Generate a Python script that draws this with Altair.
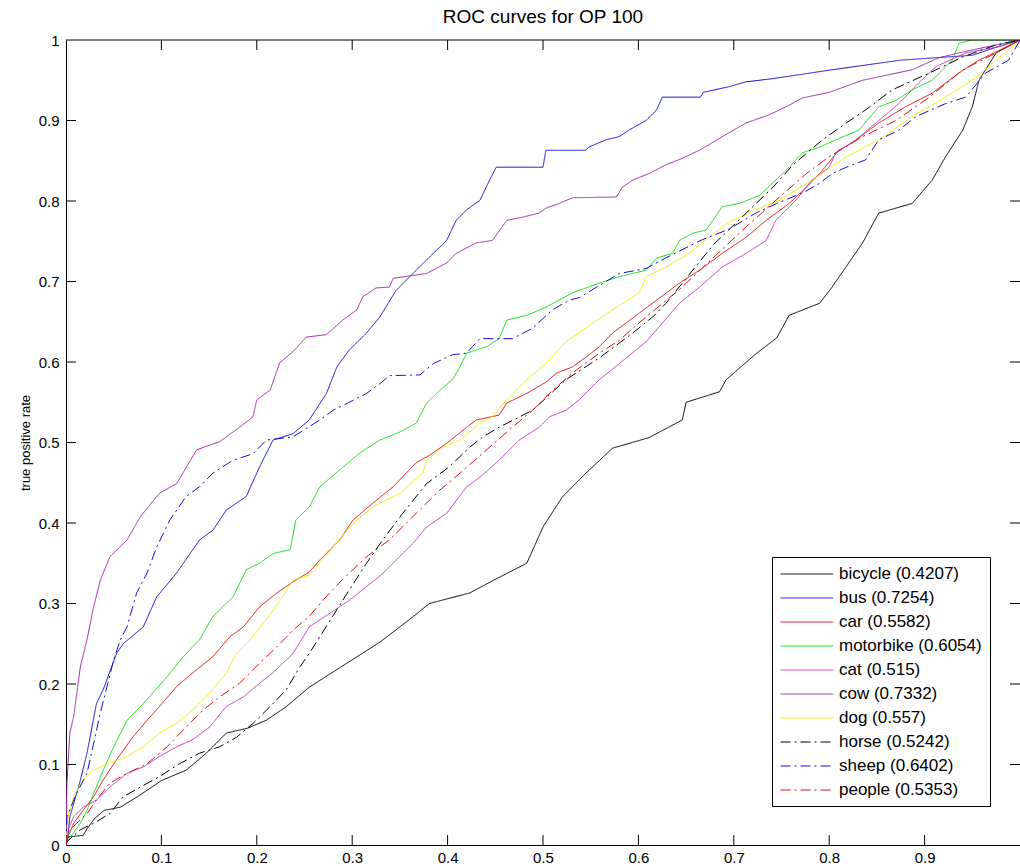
import altair as alt
import pandas as pd

# ---- data ----
names = ["bicycle", "bus", "car", "motorbike", "cat", "cow", "dog", "horse", "sheep", "people"]
auc = ["0.4207", "0.7254", "0.5582", "0.6054", "0.515", "0.7332", "0.557", "0.5242", "0.6402", "0.5353"]
colors = ["#000000", "#1010d0", "#e01010", "#10e010", "#c038c0", "#a028a8", "#f0f000", "#000000", "#1010d0", "#e01010"]
dashes = [[1, 0], [1, 0], [1, 0], [1, 0], [1, 0], [1, 0], [1, 0], [10, 4, 2, 4], [10, 4, 2, 4], [10, 4, 2, 4]]

bicycle_fpr = [0, 0.002, 0.018, 0.022, 0.03, 0.04, 0.057, 0.075, 0.085, 0.1, 0.126, 0.147, 0.168, 0.19, 0.21, 0.231, 0.255, 0.28, 0.3, 0.329, 0.36, 0.381, 0.423, 0.45, 0.483, 0.5, 0.52, 0.545, 0.573, 0.611, 0.646, 0.65, 0.685, 0.692, 0.723, 0.745, 0.758, 0.79, 0.803, 0.835, 0.852, 0.887, 0.908, 0.922, 0.94, 0.95, 0.957, 0.975, 1.0]
bicycle_tpr = [0, 0.01, 0.012, 0.02, 0.033, 0.043, 0.047, 0.06, 0.068, 0.08, 0.093, 0.114, 0.139, 0.145, 0.155, 0.172, 0.196, 0.215, 0.23, 0.252, 0.28, 0.3, 0.313, 0.33, 0.35, 0.395, 0.432, 0.462, 0.493, 0.506, 0.528, 0.55, 0.563, 0.578, 0.61, 0.63, 0.658, 0.673, 0.693, 0.748, 0.785, 0.797, 0.826, 0.855, 0.888, 0.917, 0.95, 0.984, 1.0]

bus_fpr = [0, 0.002, 0.004, 0.015, 0.022, 0.032, 0.039, 0.053, 0.06, 0.081, 0.095, 0.116, 0.14, 0.154, 0.168, 0.189, 0.203, 0.217, 0.238, 0.255, 0.273, 0.284, 0.297, 0.315, 0.329, 0.346, 0.367, 0.385, 0.399, 0.409, 0.42, 0.434, 0.444, 0.451, 0.458, 0.5, 0.503, 0.545, 0.548, 0.566, 0.58, 0.59, 0.608, 0.619, 0.625, 0.665, 0.668, 0.695, 0.713, 0.741, 0.803, 0.875, 0.95, 0.975, 1.0]
bus_tpr = [0, 0.01, 0.035, 0.08, 0.114, 0.176, 0.193, 0.238, 0.25, 0.271, 0.308, 0.338, 0.379, 0.391, 0.416, 0.433, 0.47, 0.503, 0.511, 0.528, 0.561, 0.594, 0.615, 0.636, 0.656, 0.689, 0.714, 0.735, 0.751, 0.776, 0.789, 0.801, 0.826, 0.842, 0.842, 0.842, 0.863, 0.863, 0.867, 0.876, 0.88, 0.888, 0.9, 0.913, 0.929, 0.929, 0.935, 0.942, 0.948, 0.952, 0.963, 0.975, 0.981, 0.991, 1.0]

car_fpr = [0, 0.002, 0.008, 0.018, 0.029, 0.039, 0.053, 0.07, 0.085, 0.098, 0.116, 0.133, 0.154, 0.172, 0.186, 0.203, 0.221, 0.238, 0.255, 0.266, 0.287, 0.301, 0.322, 0.343, 0.367, 0.381, 0.399, 0.42, 0.43, 0.454, 0.462, 0.483, 0.503, 0.514, 0.531, 0.545, 0.559, 0.573, 0.643, 0.664, 0.688, 0.713, 0.734, 0.758, 0.776, 0.79, 0.81, 0.824, 0.852, 0.88, 0.908, 0.936, 0.957, 0.985, 1.0]
car_tpr = [0, 0.01, 0.027, 0.043, 0.06, 0.081, 0.106, 0.134, 0.155, 0.172, 0.197, 0.214, 0.234, 0.259, 0.271, 0.296, 0.313, 0.327, 0.339, 0.354, 0.379, 0.404, 0.425, 0.445, 0.475, 0.484, 0.499, 0.519, 0.528, 0.534, 0.549, 0.561, 0.575, 0.586, 0.594, 0.606, 0.619, 0.636, 0.698, 0.714, 0.735, 0.755, 0.776, 0.797, 0.817, 0.834, 0.863, 0.872, 0.897, 0.917, 0.934, 0.959, 0.975, 0.991, 1.0]

motorbike_fpr = [0, 0.001, 0.008, 0.015, 0.022, 0.029, 0.039, 0.05, 0.064, 0.078, 0.091, 0.106, 0.123, 0.14, 0.154, 0.175, 0.189, 0.203, 0.217, 0.235, 0.241, 0.255, 0.266, 0.287, 0.308, 0.329, 0.35, 0.367, 0.378, 0.392, 0.405, 0.413, 0.42, 0.441, 0.454, 0.462, 0.483, 0.503, 0.531, 0.559, 0.58, 0.608, 0.619, 0.636, 0.643, 0.657, 0.671, 0.688, 0.706, 0.727, 0.744, 0.758, 0.772, 0.79, 0.807, 0.831, 0.852, 0.87, 0.887, 0.908, 0.929, 0.936, 0.95, 1.0]
motorbike_tpr = [0, 0.005, 0.015, 0.027, 0.043, 0.064, 0.093, 0.122, 0.155, 0.172, 0.189, 0.209, 0.234, 0.255, 0.284, 0.308, 0.342, 0.35, 0.362, 0.367, 0.404, 0.42, 0.445, 0.466, 0.487, 0.503, 0.513, 0.524, 0.549, 0.565, 0.578, 0.594, 0.611, 0.619, 0.629, 0.652, 0.658, 0.668, 0.686, 0.698, 0.706, 0.714, 0.729, 0.735, 0.751, 0.76, 0.764, 0.793, 0.797, 0.807, 0.826, 0.842, 0.86, 0.867, 0.876, 0.888, 0.917, 0.925, 0.938, 0.95, 0.975, 0.996, 1.0, 1.0]

cat_fpr = [0, 0.001, 0.008, 0.018, 0.032, 0.046, 0.064, 0.081, 0.098, 0.116, 0.133, 0.151, 0.168, 0.186, 0.203, 0.217, 0.238, 0.255, 0.297, 0.33, 0.346, 0.364, 0.378, 0.399, 0.42, 0.434, 0.454, 0.475, 0.496, 0.507, 0.524, 0.538, 0.559, 0.58, 0.608, 0.619, 0.643, 0.664, 0.688, 0.713, 0.734, 0.744, 0.765, 0.782, 0.8, 0.807, 0.828, 0.852, 0.873, 0.894, 0.912, 0.943, 0.975, 1.0]
cat_tpr = [0, 0.015, 0.035, 0.047, 0.056, 0.072, 0.089, 0.097, 0.11, 0.122, 0.131, 0.147, 0.172, 0.184, 0.201, 0.214, 0.238, 0.271, 0.304, 0.335, 0.354, 0.375, 0.395, 0.412, 0.445, 0.457, 0.478, 0.503, 0.519, 0.532, 0.54, 0.553, 0.578, 0.598, 0.625, 0.64, 0.673, 0.693, 0.718, 0.735, 0.751, 0.776, 0.801, 0.826, 0.842, 0.86, 0.876, 0.9, 0.921, 0.947, 0.967, 0.984, 0.991, 1.0]

cow_fpr = [0, 0.001, 0.004, 0.008, 0.015, 0.022, 0.029, 0.036, 0.046, 0.064, 0.078, 0.098, 0.116, 0.137, 0.161, 0.182, 0.196, 0.2, 0.214, 0.224, 0.238, 0.252, 0.273, 0.29, 0.305, 0.311, 0.325, 0.339, 0.343, 0.378, 0.399, 0.409, 0.43, 0.447, 0.462, 0.479, 0.496, 0.503, 0.517, 0.531, 0.577, 0.583, 0.594, 0.611, 0.629, 0.646, 0.664, 0.688, 0.713, 0.737, 0.758, 0.772, 0.8, 0.835, 0.887, 0.915, 0.94, 0.975, 1.0]
cow_tpr = [0, 0.077, 0.139, 0.159, 0.221, 0.255, 0.296, 0.329, 0.358, 0.379, 0.408, 0.437, 0.449, 0.491, 0.501, 0.519, 0.532, 0.553, 0.565, 0.599, 0.613, 0.631, 0.634, 0.652, 0.665, 0.681, 0.692, 0.693, 0.704, 0.71, 0.723, 0.735, 0.748, 0.751, 0.776, 0.78, 0.785, 0.791, 0.797, 0.804, 0.805, 0.817, 0.826, 0.834, 0.845, 0.853, 0.863, 0.88, 0.897, 0.907, 0.919, 0.928, 0.935, 0.95, 0.963, 0.978, 0.985, 0.994, 1.0]

dog_fpr = [0, 0.002, 0.008, 0.018, 0.029, 0.046, 0.064, 0.081, 0.098, 0.116, 0.133, 0.151, 0.168, 0.179, 0.193, 0.21, 0.227, 0.238, 0.255, 0.28, 0.301, 0.322, 0.35, 0.374, 0.378, 0.395, 0.413, 0.434, 0.447, 0.462, 0.483, 0.503, 0.524, 0.552, 0.573, 0.601, 0.608, 0.629, 0.653, 0.674, 0.695, 0.723, 0.748, 0.782, 0.818, 0.852, 0.887, 0.922, 0.95, 0.975, 1.0]
dog_tpr = [0, 0.035, 0.06, 0.081, 0.093, 0.102, 0.11, 0.122, 0.139, 0.151, 0.168, 0.189, 0.214, 0.238, 0.255, 0.28, 0.308, 0.329, 0.335, 0.37, 0.4, 0.42, 0.437, 0.462, 0.478, 0.494, 0.503, 0.524, 0.532, 0.553, 0.578, 0.598, 0.625, 0.648, 0.665, 0.686, 0.706, 0.718, 0.735, 0.755, 0.774, 0.789, 0.801, 0.826, 0.855, 0.876, 0.905, 0.929, 0.95, 0.975, 1.0]

horse_fpr = [0, 0.001, 0.015, 0.029, 0.046, 0.06, 0.078, 0.098, 0.119, 0.14, 0.161, 0.179, 0.196, 0.214, 0.231, 0.245, 0.255, 0.297, 0.315, 0.332, 0.353, 0.378, 0.402, 0.423, 0.437, 0.454, 0.489, 0.524, 0.559, 0.594, 0.615, 0.629, 0.678, 0.713, 0.741, 0.762, 0.793, 0.818, 0.838, 0.866, 0.905, 0.94, 0.975, 1.0]
horse_tpr = [0, 0.004, 0.019, 0.027, 0.039, 0.06, 0.072, 0.085, 0.101, 0.114, 0.122, 0.134, 0.151, 0.172, 0.193, 0.221, 0.238, 0.317, 0.35, 0.379, 0.412, 0.449, 0.47, 0.494, 0.507, 0.519, 0.54, 0.578, 0.605, 0.636, 0.656, 0.673, 0.745, 0.785, 0.817, 0.845, 0.876, 0.897, 0.913, 0.938, 0.959, 0.979, 0.994, 1.0]

sheep_fpr = [0, 0.001, 0.011, 0.022, 0.036, 0.043, 0.05, 0.057, 0.064, 0.074, 0.085, 0.095, 0.109, 0.126, 0.14, 0.154, 0.175, 0.196, 0.21, 0.238, 0.266, 0.28, 0.297, 0.315, 0.329, 0.339, 0.371, 0.385, 0.405, 0.42, 0.426, 0.434, 0.468, 0.489, 0.51, 0.528, 0.538, 0.559, 0.58, 0.608, 0.625, 0.65, 0.667, 0.695, 0.723, 0.745, 0.772, 0.79, 0.803, 0.818, 0.838, 0.852, 0.873, 0.891, 0.922, 0.943, 0.964, 0.988, 1.0]
sheep_tpr = [0, 0.035, 0.064, 0.089, 0.164, 0.197, 0.23, 0.255, 0.271, 0.313, 0.338, 0.37, 0.404, 0.433, 0.445, 0.462, 0.478, 0.486, 0.503, 0.507, 0.528, 0.54, 0.55, 0.561, 0.573, 0.583, 0.584, 0.598, 0.609, 0.611, 0.619, 0.629, 0.629, 0.642, 0.665, 0.677, 0.68, 0.695, 0.71, 0.716, 0.727, 0.742, 0.752, 0.765, 0.785, 0.797, 0.81, 0.822, 0.834, 0.842, 0.851, 0.876, 0.888, 0.905, 0.921, 0.929, 0.959, 0.975, 1.0]

people_fpr = [0, 0.002, 0.011, 0.022, 0.032, 0.046, 0.064, 0.085, 0.106, 0.123, 0.144, 0.161, 0.182, 0.203, 0.221, 0.238, 0.255, 0.27, 0.29, 0.315, 0.339, 0.367, 0.392, 0.413, 0.441, 0.465, 0.489, 0.51, 0.535, 0.559, 0.58, 0.608, 0.643, 0.713, 0.748, 0.776, 0.8, 0.835, 0.87, 0.905, 0.94, 0.975, 1.0]
people_tpr = [0, 0.015, 0.027, 0.039, 0.056, 0.077, 0.089, 0.101, 0.122, 0.143, 0.168, 0.184, 0.201, 0.226, 0.246, 0.267, 0.284, 0.305, 0.33, 0.358, 0.379, 0.412, 0.441, 0.462, 0.491, 0.516, 0.54, 0.565, 0.59, 0.611, 0.627, 0.656, 0.69, 0.768, 0.805, 0.834, 0.855, 0.88, 0.9, 0.929, 0.963, 0.984, 1.0]

x_ticks = [0, 0.1, 0.2, 0.3, 0.4, 0.5, 0.6, 0.7, 0.8, 0.9]
y_ticks = [0, 0.1, 0.2, 0.3, 0.4, 0.5, 0.6, 0.7, 0.8, 0.9, 1]

series = {
    "bicycle": (bicycle_fpr, bicycle_tpr), "bus": (bus_fpr, bus_tpr), "car": (car_fpr, car_tpr),
    "motorbike": (motorbike_fpr, motorbike_tpr), "cat": (cat_fpr, cat_tpr), "cow": (cow_fpr, cow_tpr),
    "dog": (dog_fpr, dog_tpr), "horse": (horse_fpr, horse_tpr), "sheep": (sheep_fpr, sheep_tpr),
    "people": (people_fpr, people_tpr),
}

labels = [f"{n} ({a})" for n, a in zip(names, auc)]
rows = []
for n, lab in zip(names, labels):
    fx, ty = series[n]
    for i, (a, b) in enumerate(zip(fx, ty)):
        rows.append({"label": lab, "fpr": a, "tpr": b, "i": i})
df = pd.DataFrame(rows)

W, H = 954, 805
FONT = "Liberation Sans"

xs = alt.Scale(domain=[0, 1], nice=False, zero=False)
ys = alt.Scale(domain=[0, 1], nice=False, zero=False)

legend = alt.Legend(title=None, orient="none", legendX=706, legendY=517,
                    symbolType="M-1,0H5.2", symbolSize=289, symbolStrokeWidth=1,
                    labelFontSize=17, labelFont=FONT, labelColor="#000",
                    labelOffset=41, padding=8, rowPadding=7,
                    strokeColor="#000", fillColor="#fff", labelLimit=400)

lines = alt.Chart(df).mark_line(strokeWidth=1, clip=True).encode(
    x=alt.X("fpr:Q", scale=xs, axis=alt.Axis(values=x_ticks, format="~g", ticks=False, grid=False,
            domainColor="#000", labelFontSize=15, labelFont=FONT, labelColor="#000",
            labelPadding=5, title=None, labelFlush=False)),
    y=alt.Y("tpr:Q", scale=ys, axis=alt.Axis(values=y_ticks, format="~g", ticks=False, grid=False,
            domainColor="#000", labelFontSize=15, labelFont=FONT, labelColor="#000",
            labelPadding=7, title="true positive rate", titleFontSize=13, titleFont=FONT,
            titleFontWeight="normal", titleColor="#000", titlePadding=6, labelFlush=False)),
    color=alt.Color("label:N", scale=alt.Scale(domain=labels, range=colors), legend=legend),
    strokeDash=alt.StrokeDash("label:N", scale=alt.Scale(domain=labels, range=dashes), legend=legend),
    order="i:Q",
)

xt = pd.DataFrame({"t": x_ticks[1:]})
yt = pd.DataFrame({"t": y_ticks[1:-1]})
edge = pd.DataFrame({"v": [1]})

bottom_ticks = alt.Chart(xt).mark_rule(color="#000", strokeWidth=1).encode(
    x=alt.X("t:Q", scale=xs), y=alt.value(H), y2=alt.value(H - 10))
top_ticks = alt.Chart(xt).mark_rule(color="#000", strokeWidth=1).encode(
    x=alt.X("t:Q", scale=xs), y=alt.value(0), y2=alt.value(10))
left_ticks = alt.Chart(yt).mark_rule(color="#000", strokeWidth=1).encode(
    y=alt.Y("t:Q", scale=ys), x=alt.value(0), x2=alt.value(10))
right_ticks = alt.Chart(yt).mark_rule(color="#000", strokeWidth=1).encode(
    y=alt.Y("t:Q", scale=ys), x=alt.value(W), x2=alt.value(W - 10))
top_frame = alt.Chart(edge).mark_rule(color="#000", strokeWidth=1).encode(
    y=alt.Y("v:Q", scale=ys), x=alt.value(0), x2=alt.value(W))

chart = alt.layer(lines, bottom_ticks, top_ticks, left_ticks, right_ticks, top_frame).properties(
    width=W, height=H,
    title=alt.TitleParams("ROC curves for OP 100", fontSize=19, font=FONT, fontWeight="normal",
                          color="#000", anchor="middle", offset=6, frame="group"),
    autosize=alt.AutoSizeParams(type="none"),
    padding={"left": 66, "top": 40, "right": 0, "bottom": 21},
).configure(background="#ffffff").configure_view(stroke=None)

chart.save("out.html", embed_options={"renderer": "svg", "actions": False})
